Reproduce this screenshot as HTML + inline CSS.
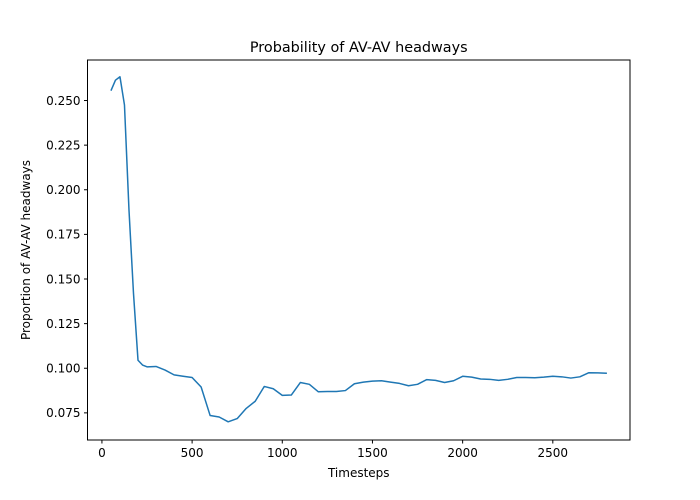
<!DOCTYPE html>
<html><head><meta charset="utf-8"><style>
body{margin:0;background:#fff}
svg{display:block;font-family:"DejaVu Sans","Liberation Sans",sans-serif}
</style></head><body>
<svg id="chart" width="700" height="500">
<rect width="700" height="500" fill="#fff"/>
<g id="plot"></g>
<rect x="87.5" y="60" width="542.5" height="380" fill="none" stroke="#000" stroke-width="1"/>
<text x="358.75" y="52" font-size="14.4" text-anchor="middle">Probability of AV-AV headways</text>
<text x="358.75" y="477" font-size="12" text-anchor="middle">Timesteps</text>
<text transform="translate(30,250) rotate(-90)" font-size="12" text-anchor="middle">Proportion of AV-AV headways</text>
</svg>
<script>
const timesteps=[50,75,100,125,150,175,200,225,250,300,350,400,450,500,550,600,650,700,750,800,850,900,950,1000,1050,1100,1150,1200,1250,1300,1350,1400,1450,1500,1550,1600,1650,1700,1750,1800,1850,1900,1950,2000,2050,2100,2150,2200,2250,2300,2350,2400,2450,2500,2550,2600,2650,2700,2750,2800];
const proportions=[0.2555,0.2614,0.2633,0.2475,0.1887,0.142,0.1045,0.1018,0.1008,0.1010,0.0990,0.0963,0.0955,0.0948,0.0895,0.0735,0.0727,0.0700,0.0718,0.0775,0.0815,0.0898,0.0885,0.0848,0.0850,0.0920,0.0910,0.0868,0.0870,0.0870,0.0875,0.0913,0.0922,0.0928,0.0930,0.0922,0.0915,0.0902,0.0910,0.0936,0.0932,0.0920,0.0930,0.0955,0.0950,0.0940,0.0938,0.0932,0.0938,0.0948,0.0948,0.0947,0.0950,0.0955,0.0952,0.0945,0.0952,0.0975,0.0974,0.0972];
const xTicks=[0,500,1000,1500,2000,2500];
const yTicks=[0.075,0.100,0.125,0.150,0.175,0.200,0.225,0.250];
const L=87.5,R=630,T=60,B=440,xmin=-80,xmax=2928,ymin=0.0598,ymax=0.2727;
const sx=v=>L+(v-xmin)/(xmax-xmin)*(R-L);
const sy=v=>B-(v-ymin)/(ymax-ymin)*(B-T);
const ns="http://www.w3.org/2000/svg",g=document.getElementById('plot');
function mk(t,a){const e=document.createElementNS(ns,t);for(const k in a)e.setAttribute(k,a[k]);g.appendChild(e);return e;}
xTicks.forEach(t=>{const x=sx(t);
 const l=mk('line',{x1:x,x2:x,y1:B,y2:B+3.5,stroke:'#000'});
 
 
 const tx=mk('text',{x:x,y:B+17,'font-size':12,'text-anchor':'middle'});tx.textContent=t;
 
 });
yTicks.forEach(t=>{const y=sy(t);
 const l=mk('line',{x1:L-3.5,x2:L,y1:y,y2:y,stroke:'#000'});
 
 
 const tx=mk('text',{x:L-7,y:y+4.3,'font-size':12,'text-anchor':'end'});tx.textContent=t.toFixed(3);
 
 });
const p=mk('polyline',{points:timesteps.map((t,i)=>sx(t)+','+sy(proportions[i])).join(' '),fill:'none',stroke:'#1f77b4','stroke-width':1.5,'stroke-linejoin':'round'});


</script>
</body></html>
